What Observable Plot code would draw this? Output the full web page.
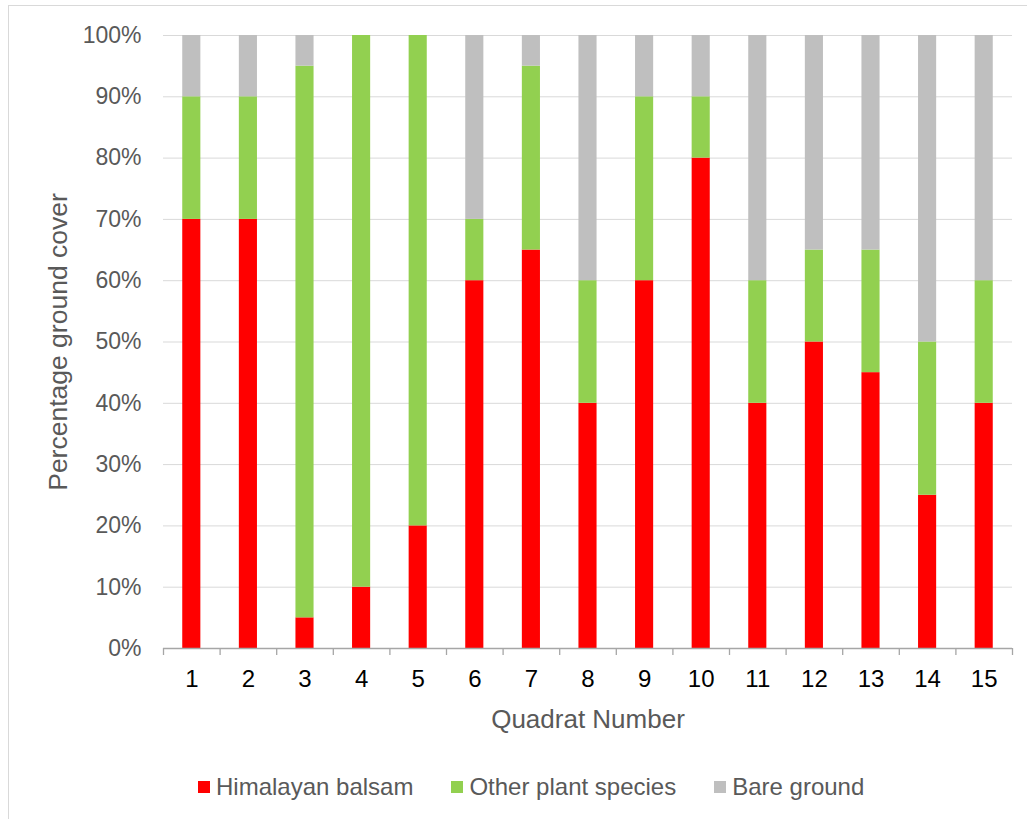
<!DOCTYPE html>
<html>
<head>
<meta charset="utf-8">
<script src="https://cdn.jsdelivr.net/npm/d3@7"></script>
<script src="https://cdn.jsdelivr.net/npm/@observablehq/plot@0.6"></script>
<style>
  html, body { margin: 0; padding: 0; background: #fff; overflow: hidden; }
  body { width: 1027px; height: 819px; position: relative; font-family: "Liberation Sans", Arial, sans-serif; }
  #frame { position: absolute; left: 8px; top: 5px; width: 1100px; height: 900px; border: 1px solid #d9d9d9; box-sizing: border-box; }
  #chart { position: absolute; left: 0; top: 0; }
  #legend { position: absolute; left: 198px; top: 775px; display: flex; align-items: center; gap: 38px; font-size: 24px; line-height: 1; color: #595959; }
  .item { display: flex; align-items: center; }
  .swatch { width: 12px; height: 12px; margin-right: 6px; display: inline-block; }
</style>
</head>
<body>
<div id="frame"></div>
<div id="chart"></div>
<div id="legend"></div>
<script>
// Ground cover in each quadrat (percent)
const quadrats = [1, 2, 3, 4, 5, 6, 7, 8, 9, 10, 11, 12, 13, 14, 15];
const himalayanBalsam = [70, 70, 5, 10, 20, 60, 65, 40, 60, 80, 40, 50, 45, 25, 40];
const otherPlants     = [20, 20, 90, 90, 80, 10, 30, 20, 30, 10, 20, 15, 20, 25, 20];
const bareGround      = [10, 10, 5, 0, 0, 30, 5, 40, 10, 10, 40, 35, 35, 50, 40];
const seriesNames = ["Himalayan balsam", "Other plant species", "Bare ground"];
const seriesColors = ["#ff0000", "#92d050", "#bfbfbf"];
const yTicks = [0, 10, 20, 30, 40, 50, 60, 70, 80, 90, 100];

// Long-format rows, stacked bottom to top in series order
const seriesValues = [himalayanBalsam, otherPlants, bareGround];
const rows = [];
quadrats.forEach((q, i) => {
  seriesNames.forEach((s, k) => rows.push({q, series: s, value: seriesValues[k][i]}));
});

// Boundaries between quadrats, where the category ticks sit
const boundaries = d3.range(0.5, quadrats.length + 1, 1);
const halfBar = 0.16;

const {x: _ignored, ...stacked} = Plot.stackY({x: "q", y: "value", fill: "series", order: null});

const plot = Plot.plot({
  width: 1027,
  height: 819,
  marginLeft: 163,
  marginRight: 15,
  marginTop: 35,
  marginBottom: 171,
  style: {fontFamily: "'Liberation Sans', Arial, sans-serif", background: "transparent", overflow: "visible"},
  x: {type: "linear", domain: [0.5, quadrats.length + 0.5], label: null},
  y: {domain: [0, 100], label: null},
  color: {domain: seriesNames, range: seriesColors},
  marks: [
    Plot.gridY(yTicks, {stroke: "#d9d9d9", strokeOpacity: 1, strokeWidth: 1}),
    Plot.rect(rows, {
      ...stacked,
      x1: d => d.q - halfBar,
      x2: d => d.q + halfBar
    }),
    Plot.ruleY([0], {stroke: "#a6a6a6", strokeWidth: 1.3}),
    Plot.axisX(boundaries, {tickSize: 7, stroke: "#a6a6a6", strokeWidth: 1.3, tickFormat: () => "", label: null}),
    Plot.axisX(quadrats, {tickSize: 0, tickPadding: 21, fontSize: 24, fill: "#000", tickFormat: d => String(d), label: null}),
    Plot.axisY(yTicks, {tickSize: 0, tickPadding: 22, fontSize: 23, fill: "#595959", tickFormat: d => d + "%", label: null}),
    Plot.text(["Quadrat Number"], {frameAnchor: "bottom", dy: 71, fontSize: 26, fill: "#595959", textAnchor: "middle", lineAnchor: "middle"}),
    Plot.text(["Percentage ground cover"], {frameAnchor: "left", dx: -105, dy: 0, rotate: -90, fontSize: 26.5, fill: "#595959", textAnchor: "middle", lineAnchor: "middle"})
  ]
});
document.getElementById("chart").appendChild(plot);

// Legend below the chart
const legend = d3.select("#legend");
seriesNames.forEach((name, k) => {
  const item = legend.append("div").attr("class", "item");
  item.append("span").attr("class", "swatch").style("background", seriesColors[k]);
  item.append("span").text(name);
});
</script>
</body>
</html>
